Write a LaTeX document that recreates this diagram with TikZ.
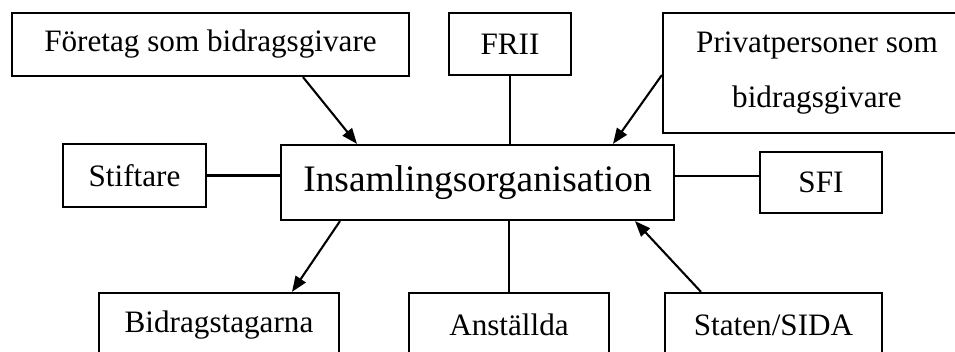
\documentclass[tikz,border=0pt]{standalone}
\usepackage{fontspec}
\setmainfont{Liberation Serif}
\usetikzlibrary{arrows.meta,calc}
\newlength\gu
\setlength\gu{0.385pt}
\begin{document}
\begin{tikzpicture}[x=0.385pt,y=-0.385pt,
  box/.style={draw, line width=0.85pt, inner sep=0pt, align=center,
    font=\fontsize{12}{14}\selectfont},
  conn/.style={line width=0.8pt},
  arr/.style={conn, -{Triangle[length=6pt,width=4.6pt]}}]
\useasboundingbox (0,0) rectangle (955,352);
\clip (0,0) rectangle (955,352);

% boxes
\node[box, minimum width={397*\gu}, minimum height={63*\gu}] (comp) at (210.5,44.5) {Företag som bidragsgivare};
\node[box, minimum width={122*\gu}, minimum height={62*\gu}] (frii) at (510,44) {FRII};
\node[box, minimum width={308*\gu}, minimum height={120*\gu},
      font=\fontsize{12}{21.2}\selectfont] (priv) at (817,73) {Privatpersoner som\\bidragsgivare};
\node[box, minimum width={143*\gu}, minimum height={63*\gu}] (stift) at (134.5,175.5) {Stiftare};
\node[box, minimum width={393*\gu}, minimum height={75*\gu},
      font=\fontsize{14.4}{17}\selectfont] (ins) at (477.5,182.5) {Insamlingsorganisation};
\node[box, minimum width={122*\gu}, minimum height={61*\gu}] (sfi) at (821,182.5) {SFI};
\node[box, minimum width={240*\gu}, minimum height={64*\gu}] (bid) at (219,325) {Bidragstagarna};
\node[box, minimum width={200*\gu}, minimum height={64*\gu}] (anst) at (509,325) {Anställda};
\node[box, minimum width={217*\gu}, minimum height={64*\gu}] (stat) at (773.5,325) {Staten/SIDA};

% connectors
\draw[arr] ($(comp.south)+(92.5,0)$) -- ($(ins.north)+(-120.5,0)$);
\draw[conn] (frii.south) -- (frii.south |- ins.north);
\draw[arr] ($(priv.west)+(0,2)$) -- ($(ins.north)+(135.5,0)$);
\draw[conn] (stift.east) -- (stift.east -| ins.west);
\coordinate (sfiin) at ($(sfi.west)+(0,-6.5)$);
\draw[conn] (sfiin -| ins.east) -- (sfiin);
\draw[arr] ($(ins.south)+(-137.5,0)$) -- ($(bid.north)+(73,0)$);
\draw[conn] (anst.north) -- (anst.north |- ins.south);
\draw[arr] ($(stat.north)+(-72.5,0)$) -- ($(ins.south)+(157.5,0)$);
\end{tikzpicture}
\end{document}
